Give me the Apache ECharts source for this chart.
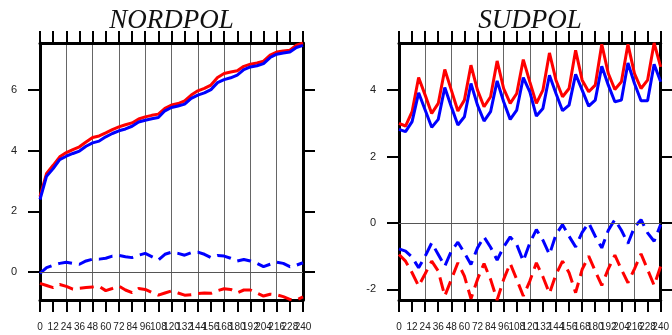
<!DOCTYPE html>
<html>
<head>
<meta charset="utf-8">
<script src="https://cdn.jsdelivr.net/npm/echarts@6/dist/echarts.min.js"></script>
<style>
html, body { margin: 0; padding: 0; background: #fff; }
#chart { width: 672px; height: 335px; }
</style>
</head>
<body>
<div id="chart"></div>
<script>
// months, one point every 6
var months = [0, 6, 12, 18, 24, 30, 36, 42, 48, 54, 60, 66, 72, 78, 84, 90, 96, 102, 108, 114, 120,
  126, 132, 138, 144, 150, 156, 162, 168, 174, 180, 186, 192, 198, 204, 210, 216, 222, 228, 234, 240];

// x tick labels (every 12)
var xLabels = [0, 12, 24, 36, 48, 60, 72, 84, 96, 108, 120, 132, 144, 156, 168, 180, 192, 204, 216, 228, 240];

// NORDPOL
var nordRed = [2.48, 3.25, 3.52, 3.80, 3.94, 4.04, 4.13, 4.29, 4.44, 4.49, 4.59, 4.70, 4.79, 4.86, 4.92, 5.05, 5.12, 5.17, 5.21, 5.40, 5.51,
  5.56, 5.65, 5.84, 5.98, 6.06, 6.17, 6.42, 6.55, 6.60, 6.64, 6.79, 6.86, 6.90, 6.96, 7.16, 7.26, 7.30, 7.32, 7.49, 7.56];
var nordBlue = [2.39, 3.16, 3.41, 3.71, 3.82, 3.91, 3.99, 4.15, 4.26, 4.32, 4.46, 4.57, 4.66, 4.72, 4.81, 4.95, 5.01, 5.06, 5.10, 5.32, 5.43,
  5.48, 5.54, 5.73, 5.84, 5.91, 6.02, 6.25, 6.35, 6.41, 6.50, 6.68, 6.77, 6.81, 6.88, 7.08, 7.19, 7.23, 7.26, 7.41, 7.48];
var nordBlueDash = [-0.05, 0.14, 0.22, 0.28, 0.32, 0.28, 0.25, 0.36, 0.42, 0.42, 0.45, 0.52, 0.54, 0.50, 0.47, 0.55, 0.61, 0.50, 0.39, 0.58, 0.65,
  0.61, 0.55, 0.63, 0.65, 0.58, 0.47, 0.54, 0.52, 0.45, 0.36, 0.41, 0.36, 0.28, 0.17, 0.25, 0.32, 0.28, 0.17, 0.22, 0.30];
var nordRedDash = [-0.38, -0.45, -0.52, -0.42, -0.48, -0.57, -0.54, -0.52, -0.50, -0.48, -0.62, -0.55, -0.47, -0.60, -0.69, -0.55, -0.58, -0.68, -0.77, -0.70, -0.63,
  -0.70, -0.77, -0.76, -0.72, -0.70, -0.71, -0.62, -0.56, -0.58, -0.69, -0.60, -0.60, -0.70, -0.80, -0.74, -0.76, -0.82, -0.91, -0.93, -0.83];

// SUDPOL
var sudRed = [3.00, 2.92, 3.35, 4.38, 3.85, 3.30, 3.60, 4.62, 4.00, 3.37, 3.70, 4.75, 4.00, 3.50, 3.80, 4.88, 4.05, 3.60, 3.90, 4.92, 4.25,
  3.60, 4.00, 5.12, 4.30, 3.80, 4.05, 5.20, 4.30, 3.95, 4.15, 5.38, 4.50, 4.02, 4.25, 5.38, 4.50, 4.05, 4.30, 5.42, 4.70];
var sudBlue = [2.82, 2.75, 3.05, 3.92, 3.40, 2.88, 3.12, 4.08, 3.50, 2.95, 3.20, 4.20, 3.55, 3.07, 3.35, 4.28, 3.65, 3.12, 3.40, 4.38, 3.95,
  3.22, 3.45, 4.45, 3.90, 3.38, 3.55, 4.48, 4.00, 3.52, 3.70, 4.72, 4.15, 3.65, 3.70, 4.82, 4.20, 3.68, 3.68, 4.78, 4.25];
var sudBlueDash = [-0.78, -0.85, -1.03, -1.35, -1.00, -0.60, -0.95, -1.30, -0.85, -0.58, -0.90, -1.25, -0.75, -0.42, -0.73, -1.12, -0.72, -0.42, -0.65, -1.15, -0.60,
  -0.20, -0.52, -0.95, -0.35, -0.05, -0.40, -0.72, -0.28, 0.00, -0.40, -0.75, -0.22, 0.10, -0.22, -0.62, -0.12, 0.10, -0.30, -0.55, -0.05];
var sudRedDash = [-0.95, -1.15, -1.50, -1.90, -1.53, -1.15, -1.45, -2.20, -1.70, -1.20, -1.60, -2.28, -1.70, -1.22, -1.70, -2.32, -1.70, -1.22, -1.70, -2.20, -1.75,
  -1.20, -1.62, -2.12, -1.55, -1.15, -1.50, -2.10, -1.40, -1.00, -1.45, -1.88, -1.38, -0.97, -1.40, -1.80, -1.38, -0.93, -1.40, -1.88, -1.30];

var nordYTicks = [0, 2, 4, 6];
var sudYTicks = [-2, 0, 2, 4];
var titles = ['NORDPOL', 'SUDPOL'];

var chart = echarts.init(document.getElementById('chart'));

function pairs(vals) {
  return months.map(function (m, i) { return [m, vals[i]]; });
}

function extent(list) {
  var all = [].concat.apply([], list);
  return [Math.min.apply(null, all), Math.max.apply(null, all)];
}

// labels overlap in the original, so split them over two axes to keep them all
var evenLabels = xLabels.filter(function (v, i) { return i % 2 === 0; });
var oddLabels = xLabels.filter(function (v, i) { return i % 2 === 1; });

var grids = [
  { left: 40, right: 369, top: 43, bottom: 35 },
  { left: 399, right: 11, top: 43, bottom: 35 }
];

var panels = [
  { lines: [nordRed, nordBlue, nordBlueDash, nordRedDash], ticks: nordYTicks },
  { lines: [sudRed, sudBlue, sudBlueDash, sudRedDash], ticks: sudYTicks }
];

var xAxes = [], yAxes = [], series = [], graphics = [];
var labelStyle = { fontSize: 10, color: '#222', margin: 22, fontFamily: 'Liberation Sans', hideOverlap: false };

panels.forEach(function (p, g) {
  var ext = extent(p.lines);
  var frame = { onZero: false, lineStyle: { color: '#000', width: 3 } };
  var tick = { show: true, length: 12, lineStyle: { color: '#000', width: 2 } };
  // bottom axis, frame + ticks
  xAxes.push({
    type: 'value', gridIndex: g, position: 'bottom', min: 0, max: 240, interval: 12,
    axisLine: frame, axisTick: tick, axisLabel: { show: false }, splitLine: { show: false }
  });
  // top axis, ticks only
  xAxes.push({
    type: 'value', gridIndex: g, position: 'top', min: 0, max: 240, interval: 12,
    axisLine: frame, axisTick: tick, axisLabel: { show: false }, splitLine: { show: false }
  });
  // vertical grid lines every 24 + even labels
  xAxes.push({
    type: 'value', gridIndex: g, position: 'bottom', min: 0, max: 240, z: -1,
    axisLine: { show: false, onZero: false }, axisTick: { show: false },
    axisLabel: Object.assign({ customValues: evenLabels }, labelStyle),
    splitLine: { show: true, showMinLine: false, showMaxLine: false, lineStyle: { color: '#666', width: 1 } },
    interval: 24
  });
  // odd labels
  xAxes.push({
    type: 'value', gridIndex: g, position: 'bottom', min: 0, max: 240, interval: 12,
    axisLine: { show: false, onZero: false }, axisTick: { show: false },
    axisLabel: Object.assign({ customValues: oddLabels }, labelStyle),
    splitLine: { show: false }
  });
  yAxes.push({
    type: 'value', gridIndex: g, position: 'left', min: ext[0], max: ext[1],
    axisLine: frame,
    axisTick: { show: true, length: 12, lineStyle: { color: '#000', width: 2 }, customValues: p.ticks },
    axisLabel: { customValues: p.ticks, fontSize: 11, color: '#222', margin: 23, fontFamily: 'Liberation Sans' },
    splitLine: { show: false }
  });
  yAxes.push({
    type: 'value', gridIndex: g, position: 'right', min: ext[0], max: ext[1],
    axisLine: frame,
    axisTick: { show: true, length: 12, lineStyle: { color: '#000', width: 2 }, customValues: p.ticks },
    axisLabel: { show: false },
    splitLine: { show: false }
  });

  var styles = [
    { color: '#ff0000', type: 'solid' },
    { color: '#0000ff', type: 'solid' },
    { color: '#0000ff', type: [14, 7] },
    { color: '#ff0000', type: [14, 7] }
  ];
  p.lines.forEach(function (vals, i) {
    var s = {
      type: 'line', xAxisIndex: g * 4, yAxisIndex: g * 2,
      data: pairs(vals), showSymbol: false, silent: true,
      lineStyle: { color: styles[i].color, width: 3, type: styles[i].type },
      itemStyle: { color: styles[i].color }
    };
    if (i === 0) {
      s.markLine = {
        silent: true, symbol: ['none', 'none'], label: { show: false },
        lineStyle: { color: '#555', width: 1, type: 'solid' },
        data: [{ yAxis: 0 }]
      };
    }
    series.push(s);
  });

  var gr = grids[g];
  var cx = gr.left + (672 - gr.left - gr.right) / 2;
  graphics.push({
    type: 'text', x: cx, y: 34,
    style: {
      text: titles[g], fill: '#111',
      font: 'italic 27px "Liberation Serif"',
      textAlign: 'center', textVerticalAlign: 'bottom'
    }
  });
});

chart.setOption({
  animation: false,
  grid: grids,
  xAxis: xAxes,
  yAxis: yAxes,
  series: series,
  graphic: graphics
});

window.addEventListener('resize', function () {
  chart.resize();
});
</script>
</body>
</html>
